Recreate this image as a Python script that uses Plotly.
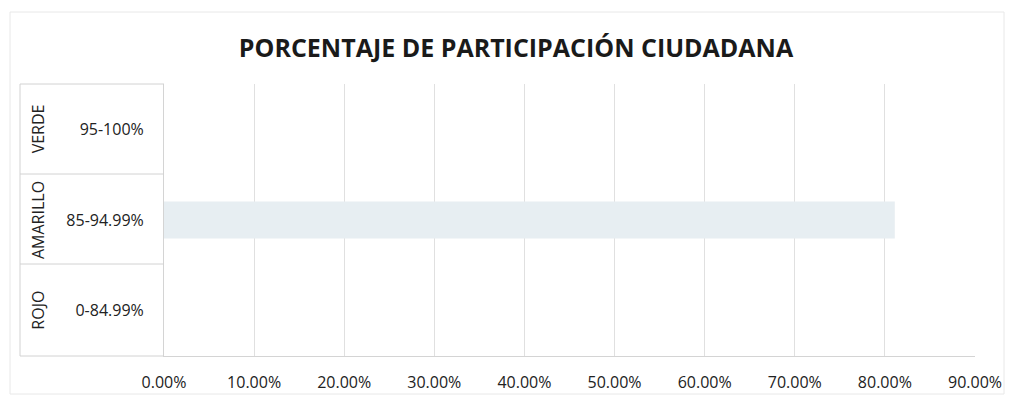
import plotly.graph_objects as go

categories = ["0-84.99%", "85-94.99%", "95-100%"]
groups = ["ROJO", "AMARILLO", "VERDE"]
values = [0.0, 0.811, 0.0]
tick_vals = [0, 0.1, 0.2, 0.3, 0.4, 0.5, 0.6, 0.7, 0.8, 0.9]
tick_text = ["0.00%", "10.00%", "20.00%", "30.00%", "40.00%", "50.00%",
             "60.00%", "70.00%", "80.00%", "90.00%"]
title_text = "PORCENTAJE DE PARTICIPACIÓN CIUDADANA"

W, H = 1012, 400
L, R, T, B = 164, 37, 84, 44
pw, ph = W - L - R, H - T - B

def px(x):
    return (x - L) / pw

def py(y):
    return (H - B - y) / ph

fig = go.Figure()
fig.add_trace(go.Bar(
    x=values, y=categories, orientation="h",
    marker=dict(color="#e7eef2", line=dict(width=0)),
    width=0.41, hoverinfo="skip"
))

font_family = "Open Sans, Noto Sans, sans-serif"

for g, c in zip(groups, categories):
    fig.add_annotation(
        x=px(38), xref="paper", y=c, yref="y", text=g, textangle=-90,
        showarrow=False, font=dict(family=font_family, size=16, color="#222222"),
        xanchor="center", yanchor="middle"
    )

shapes = []
line_style = dict(color="#d2d2d2", width=1)
for yy in [84, 174, 264, 356]:
    shapes.append(dict(type="line", xref="paper", yref="paper",
                       x0=px(20), x1=px(164), y0=py(yy), y1=py(yy), line=line_style))
shapes.append(dict(type="line", xref="paper", yref="paper",
                   x0=px(20), x1=px(20), y0=py(84), y1=py(356), line=line_style))
shapes.append(dict(type="rect", xref="paper", yref="paper",
                   x0=px(10), x1=px(1004), y0=py(394), y1=py(12),
                   line=dict(color="#e8e8e8", width=1)))
fig.update_layout(shapes=shapes)

fig.update_layout(
    width=W, height=H,
    margin=dict(l=L, r=R, t=T, b=B, autoexpand=False),
    paper_bgcolor="white", plot_bgcolor="white",
    showlegend=False,
    title=dict(text="<b>" + title_text + "</b>", x=px(516), xref="paper", xanchor="center",
               y=1 - 48 / H, yanchor="middle",
               font=dict(family=font_family, size=25, color="#1a1a1a")),
)
fig.update_xaxes(
    range=[0, 0.9], tickvals=tick_vals, ticktext=tick_text,
    showgrid=True, gridcolor="#e0e0e0", gridwidth=1,
    zeroline=False, showline=True, linecolor="#d4d4d4",
    ticks="", ticklabelstandoff=12,
    tickfont=dict(family=font_family, size=16, color="#222222"),
    fixedrange=True
)
fig.update_yaxes(
    categoryorder="array", categoryarray=categories,
    showgrid=False, zeroline=False, showline=True, linecolor="#d4d4d4",
    ticks="", ticklabelstandoff=16,
    tickfont=dict(family=font_family, size=16, color="#222222"),
    fixedrange=True
)

fig.write_html("out.html", config={"displayModeBar": False},
               post_script="document.body.style.margin='0';")
